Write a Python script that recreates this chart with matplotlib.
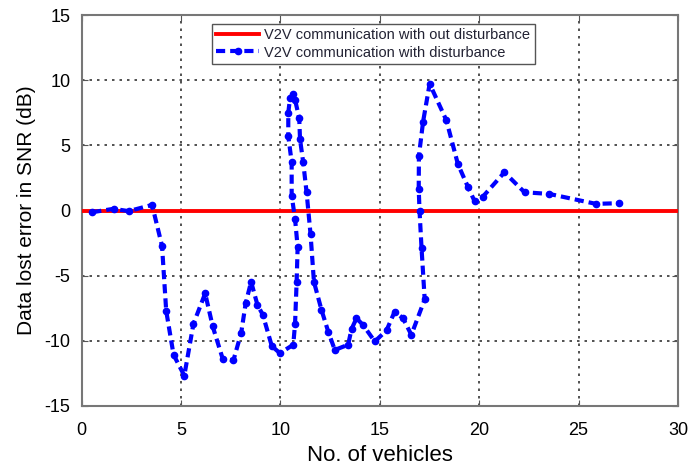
import matplotlib
matplotlib.use("Agg")
import matplotlib.pyplot as plt

plt.rcParams['font.family'] = ['Liberation Sans', 'DejaVu Sans']
plt.rcParams['axes.unicode_minus'] = False

x_ref = [0, 30]
y_ref = [0, 0]

x_dist = [0.54, 1.62, 2.37, 3.55, 4.05, 4.26, 4.63, 5.17, 5.63, 6.22, 6.6, 7.1, 7.64,
          8.03, 8.26, 8.53, 8.85, 9.12, 9.57, 9.98, 10.65, 10.74, 10.82, 10.87, 10.74,
          10.57, 10.57, 10.4, 10.4, 10.49, 10.65, 10.74, 10.95, 10.99, 11.15, 11.32,
          11.52, 11.69, 12.07, 12.41, 12.74, 13.41, 13.58, 13.83, 14.17, 14.75, 15.34,
          15.75, 16.17, 16.59, 17.26, 17.1, 17.0, 16.96, 16.97, 17.18, 17.51, 18.35,
          18.93, 19.43, 19.77, 20.19, 21.27, 22.28, 23.53, 25.87, 27.05]
y_dist = [-0.13, 0.13, -0.05, 0.43, -2.72, -7.7, -11.07, -12.67, -8.7, -6.36, -8.9, -11.37,
          -11.5, -9.4, -7.1, -5.47, -7.25, -8.0, -10.4, -10.95, -10.3, -8.7, -5.47, -2.8,
          -0.64, 1.15, 3.7, 5.7, 7.5, 8.65, 8.96, 8.5, 7.08, 5.47, 3.7, 1.4, -1.83,
          -5.47, -7.63, -9.3, -10.7, -10.3, -9.1, -8.27, -8.8, -10.05, -9.2, -7.76,
          -8.27, -9.54, -6.82, -2.85, 0.0, 1.65, 4.2, 6.82, 9.72, 6.92, 3.56, 1.83,
          0.71, 1.07, 2.93, 1.4, 1.27, 0.51, 0.56]

xticks = [0, 5, 10, 15, 20, 25, 30]
yticks = [-15, -10, -5, 0, 5, 10, 15]

fig = plt.figure(figsize=(6.9, 4.71), dpi=100)
ax = fig.add_axes([81.5/690, 1-406/471, (678-81.5)/690, (406-15)/471])

ax.plot(x_ref, y_ref, color='#ff0000', lw=2.8, label='V2V communication with out disturbance', zorder=3)
ax.plot(x_dist, y_dist, color='#0000ff', lw=3, ls=(0, (2.2, 1.2)), marker='o', ms=4.5,
        label='V2V communication with disturbance', zorder=4)

ax.set_xlim(0, 30)
ax.set_ylim(-15, 15)
ax.set_xticks(xticks)
ax.set_yticks(yticks)
ax.tick_params(direction='in', length=4, labelsize=13, color='#555555',
               top=True, right=True)
ax.tick_params(axis='x', pad=11.5)
ax.tick_params(axis='y', pad=8)
ax.grid(True, ls=(0, (1.5, 3)), color='#333333', lw=1.2)
for s in ax.spines.values():
    s.set_color('#777777')
    s.set_linewidth(1.5)

ax.set_xlabel('No. of vehicles', fontsize=16, labelpad=4)
ax.set_ylabel('Data lost error in SNR (dB)', fontsize=15, labelpad=6)

leg = ax.legend(loc='upper left', bbox_to_anchor=((212-81.5)/596.5, (406-24)/391),
                borderaxespad=0, fontsize=10.5,
                fancybox=False, framealpha=1, edgecolor='#555555', handlelength=2.9,
                handletextpad=0.4, borderpad=0.3, labelspacing=0.22)
leg.get_frame().set_linewidth(1.0)
for t in leg.get_texts():
    t.set_color('#222233')

fig.savefig('out.png', dpi=100)
